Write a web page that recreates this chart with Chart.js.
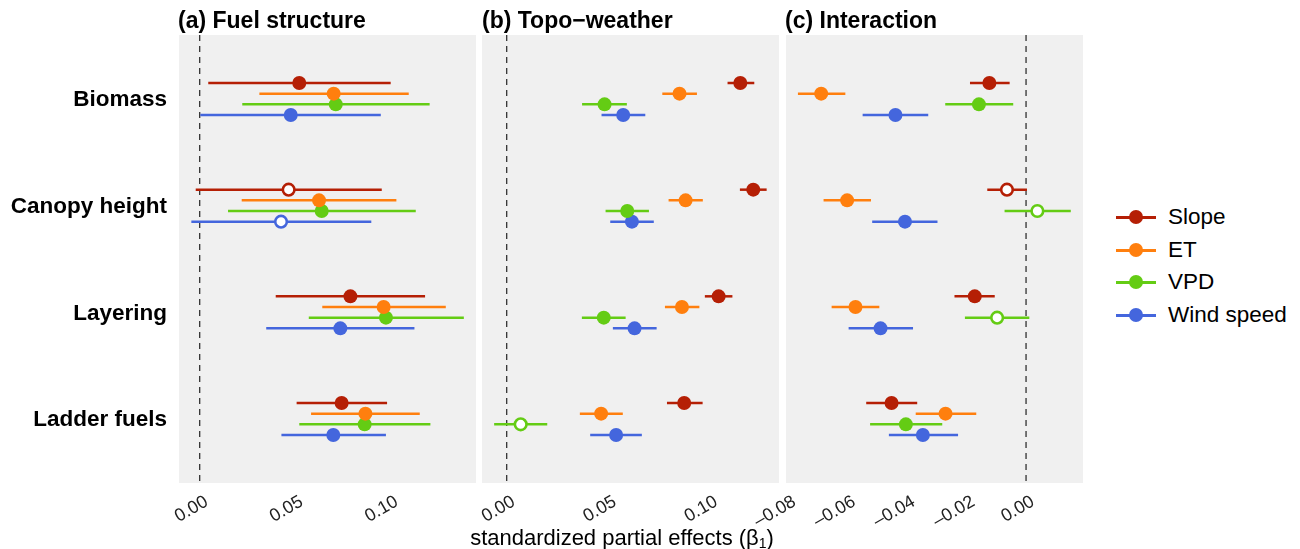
<!DOCTYPE html>
<html>
<head>
<meta charset="utf-8">
<script src="https://cdn.jsdelivr.net/npm/chart.js@4.4.1/dist/chart.umd.min.js"></script>
<style>
    body { margin: 0; background: #fff; font-family: "Liberation Sans", Arial, sans-serif; }
    #wrap { position: relative; width: 1300px; height: 549px; overflow: hidden; }
    #wrap canvas { position: absolute; top: 0; }
    .ttl { position: absolute; top: 7px; font-weight: bold; font-size: 23px; line-height: 26px; color: #000; white-space: nowrap; }
    #xtitle { position: absolute; top: 524px; left: 622px; transform: translateX(-50%); font-size: 22px; line-height: 28px; color: #000; white-space: nowrap; }
    #xtitle sub { font-size: 14px; vertical-align: -3px; }
    .leg { position: absolute; left: 1116px; height: 26px; width: 180px; }
    .leg .ln { position: absolute; left: 0; top: 12px; width: 40px; height: 2.5px; }
    .leg .dot { position: absolute; left: 13px; top: 6px; width: 14px; height: 14px; border-radius: 50%; }
    .leg .txt { position: absolute; left: 52px; top: 0; font-size: 22.5px; line-height: 26px; color: #000; white-space: nowrap; }
</style>
</head>
<body>
<div id="wrap">
    <canvas id="fuelChart" width="488" height="549" style="left:0px"></canvas>
    <canvas id="topoChart" width="371" height="549" style="left:420px"></canvas>
    <canvas id="interChart" width="365" height="549" style="left:730px"></canvas>
    <div class="ttl" style="left:178px">(a) Fuel structure</div>
    <div class="ttl" style="left:482px">(b) Topo−weather</div>
    <div class="ttl" style="left:785px">(c) Interaction</div>
    <div id="xtitle">standardized partial effects (β<sub>1</sub>)</div>
    <div id="legend"></div>
</div>
<script>
const categories = ['Biomass', 'Canopy height', 'Layering', 'Ladder fuels'];
const seriesNames = ['Slope', 'ET', 'VPD', 'Wind speed'];

// rows = series (Slope, ET, VPD, Wind speed), columns = categories
const fuelEst  = [[0.0524, 0.0468, 0.0793, 0.0747], [0.0705, 0.0628, 0.0968, 0.0872], [0.0716, 0.0642, 0.0980, 0.0868], [0.0479, 0.0428, 0.0740, 0.0703]];
const fuelLow  = [[0.0045, -0.0021, 0.0400, 0.0510], [0.0314, 0.0221, 0.0645, 0.0586], [0.0224, 0.0149, 0.0574, 0.0524], [0.0003, -0.0044, 0.0350, 0.0430]];
const fuelHigh = [[0.1005, 0.0958, 0.1186, 0.0986], [0.1100, 0.1035, 0.1295, 0.1158], [0.1210, 0.1137, 0.1390, 0.1214], [0.0953, 0.0903, 0.1130, 0.0980]];
const fuelOpen = [[0, 1, 0, 0], [0, 0, 0, 0], [0, 0, 0, 0], [0, 1, 0, 0]];

const topoEst  = [[0.1153, 0.1217, 0.1046, 0.0876], [0.0853, 0.0883, 0.0865, 0.0466], [0.0483, 0.0595, 0.0479, 0.0069], [0.0575, 0.0618, 0.0631, 0.0540]];
const topoLow  = [[0.1090, 0.1151, 0.0978, 0.0791], [0.0768, 0.0799, 0.0781, 0.0361], [0.0372, 0.0488, 0.0371, -0.0062], [0.0468, 0.0511, 0.0524, 0.0412]];
const topoHigh = [[0.1222, 0.1283, 0.1114, 0.0967], [0.0939, 0.0968, 0.0951, 0.0573], [0.0593, 0.0702, 0.0587, 0.0200], [0.0684, 0.0726, 0.0740, 0.0667]];
const topoOpen = [[0, 0, 0, 0], [0, 0, 0, 0], [0, 0, 0, 1], [0, 0, 0, 0]];

const interEst  = [[-0.0123, -0.0064, -0.0172, -0.0451], [-0.0687, -0.0600, -0.0572, -0.0270], [-0.0158, 0.0038, -0.0097, -0.0403], [-0.0438, -0.0406, -0.0488, -0.0346]];
const interLow  = [[-0.0188, -0.0130, -0.0240, -0.0536], [-0.0765, -0.0679, -0.0652, -0.0370], [-0.0271, -0.0072, -0.0205, -0.0523], [-0.0548, -0.0516, -0.0595, -0.0460]];
const interHigh = [[-0.0055, 0.0003, -0.0105, -0.0365], [-0.0606, -0.0520, -0.0492, -0.0167], [-0.0043, 0.0150, 0.0011, -0.0281], [-0.0328, -0.0297, -0.0379, -0.0228]];
const interOpen = [[0, 1, 0, 0], [0, 0, 0, 0], [0, 1, 1, 0], [0, 0, 0, 0]];

const fuelTicks = [0, 0.05, 0.10];
const topoTicks = [0, 0.05, 0.10];
const interTicks = [-0.08, -0.06, -0.04, -0.02, 0];

const colors = ['#B51F05', '#FF7F0E', '#64CC14', '#4466DD'];
const dodge = [-0.15, -0.05, 0.05, 0.15];

// grey panel, dashed zero line and horizontal error bars
const panelPlugin = {
    id: 'panel',
    beforeDatasetsDraw(chart) {
        const ctx = chart.ctx;
        const area = chart.chartArea;
        const xs = chart.scales.x;
        ctx.save();
        ctx.fillStyle = '#F0F0F0';
        ctx.fillRect(area.left, area.top, area.right - area.left, area.bottom - area.top);

        const x0 = xs.getPixelForValue(0);
        ctx.strokeStyle = '#222';
        ctx.lineWidth = 1.2;
        ctx.setLineDash([6, 5]);
        ctx.beginPath();
        ctx.moveTo(x0, area.top);
        ctx.lineTo(x0, area.bottom);
        ctx.stroke();
        ctx.setLineDash([]);

        ctx.lineWidth = 2.5;
        chart.data.datasets.forEach((ds, s) => {
            const meta = chart.getDatasetMeta(s);
            meta.data.forEach((pt, i) => {
                const raw = ds.data[i];
                ctx.strokeStyle = colors[s];
                ctx.beginPath();
                ctx.moveTo(xs.getPixelForValue(raw.lo), pt.y);
                ctx.lineTo(xs.getPixelForValue(raw.hi), pt.y);
                ctx.stroke();
            });
        });
        ctx.restore();
    }
};

function fmtTick(v) {
    const s = Math.abs(v).toFixed(2);
    return v < -1e-9 ? '\u2013' + s : s;
}

function makePanel(id, est, low, high, open, tickValues, xmin, xmax, padLeft, padRight, showY) {
    const datasets = seriesNames.map((name, s) => ({
        label: name,
        data: categories.map((c, i) => ({ x: est[s][i], y: i + 1 + dodge[s], lo: low[s][i], hi: high[s][i] })),
        pointBackgroundColor: categories.map((c, i) => open[s][i] ? '#ffffff' : colors[s]),
        pointBorderColor: colors[s],
        pointBorderWidth: categories.map((c, i) => open[s][i] ? 2.6 : 0),
        pointRadius: categories.map((c, i) => open[s][i] ? 5.8 : 7),
        pointHoverRadius: 7
    }));

    new Chart(document.getElementById(id), {
        type: 'scatter',
        data: { datasets },
        plugins: [panelPlugin],
        options: {
            responsive: false,
            animation: false,
            layout: { padding: { top: 35, left: padLeft, right: padRight, bottom: 0 } },
            plugins: { legend: { display: false }, tooltip: { enabled: false } },
            scales: {
                x: {
                    type: 'linear',
                    min: xmin,
                    max: xmax,
                    grid: { display: false, drawTicks: false },
                    border: { display: false },
                    afterBuildTicks: axis => { axis.ticks = tickValues.map(v => ({ value: v })); },
                    afterFit: axis => {
                        axis.height = 66;
                        axis.paddingLeft = 0;
                        axis.paddingRight = 0;
                    },
                    ticks: {
                        minRotation: 30,
                        maxRotation: 30,
                        autoSkip: false,
                        padding: 8,
                        labelOffset: 7,
                        color: '#222',
                        font: { family: '"Liberation Sans", Arial, sans-serif', size: 18 },
                        callback: v => fmtTick(v)
                    }
                },
                y: {
                    type: 'linear',
                    reverse: true,
                    min: 0.4,
                    max: 4.6,
                    grid: { display: false, drawTicks: false },
                    border: { display: false },
                    afterBuildTicks: axis => { axis.ticks = categories.map((c, i) => ({ value: i + 1 })); },
                    afterFit: axis => {
                        axis.width = showY ? 179 : 0;
                        axis.paddingTop = 0;
                        axis.paddingBottom = 0;
                    },
                    ticks: {
                        display: showY,
                        padding: 12,
                        labelOffset: 1,
                        color: '#000',
                        font: { family: '"Liberation Sans", Arial, sans-serif', size: 22.5, weight: 'bold' },
                        callback: v => categories[Math.round(v) - 1]
                    }
                }
            }
        }
    });
}

// right padding kept above the point overflow Chart.js reserves
makePanel('fuelChart', fuelEst, fuelLow, fuelHigh, fuelOpen, fuelTicks, -0.0109, 0.1454, 0, 12, true);
makePanel('topoChart', topoEst, topoLow, topoHigh, topoOpen, topoTicks, -0.0122, 0.1344, 62, 12, false);
makePanel('interChart', interEst, interLow, interHigh, interOpen, interTicks, -0.0805, 0.0191, 56, 12, false);

const legendTops = [204, 237, 269, 302];
const legendEl = document.getElementById('legend');
seriesNames.forEach((name, s) => {
    const row = document.createElement('div');
    row.className = 'leg';
    row.style.top = legendTops[s] + 'px';
    row.innerHTML = `
        <div class="ln" style="background:${colors[s]}"></div>
        <div class="dot" style="background:${colors[s]}"></div>
        <div class="txt">${name}</div>
    `;
    legendEl.appendChild(row);
});
</script>
</body>
</html>
